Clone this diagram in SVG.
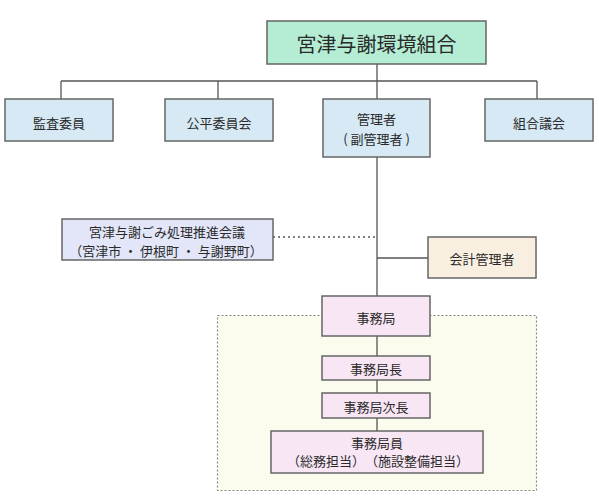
<svg xmlns="http://www.w3.org/2000/svg" width="599" height="497" viewBox="0 0 599 497">
<style>
.b{stroke:#666;stroke-width:1.5}
.g{fill:#b4ecd4}
.bl{fill:#d6e9f5}
.lv{fill:#e2e6f8}
.bg{fill:#f9efe1}
.pk{fill:#f8e6f5}
.t{font-family:"Noto Sans CJK JP","Noto Sans CJK SC",sans-serif;font-size:13px;fill:#2a2a2a;text-anchor:middle;dominant-baseline:central}
.ln{stroke:#555;stroke-width:1.3;fill:none}
</style>
<rect width="599" height="497" fill="#fff"/>
<g id="office-area">
<rect x="217.5" y="315.5" width="319" height="175" fill="#fbfbee" stroke="#888" stroke-width="1.2" stroke-dasharray="2,2"/>
</g>
<g id="connectors">
<path class="ln" d="M377 64V81M61 81H537M61 81V99M218 81V99M377 81V99M537 81V99"/>
<path class="ln" d="M377 157V296M377 258H428M377 336V356M377 380V393M377 418V431"/>
<path class="ln" d="M273 237H377" stroke-dasharray="2,3"/>
</g>
<g id="kumiai"><rect class="b g" x="267" y="21" width="219" height="43"/><text class="t" x="376.5" y="43" style="font-size:20px">宮津与謝環境組合</text></g>
<g id="kansa"><rect class="b bl" x="5" y="99" width="108" height="42"/><text class="t" x="59" y="122">監査委員</text></g>
<g id="kohei"><rect class="b bl" x="165" y="99" width="108" height="42"/><text class="t" x="219" y="122">公平委員会</text></g>
<g id="kanrisha"><rect class="b bl" x="323" y="99" width="107" height="58"/><text class="t" x="376.5" y="118">管理者</text><text class="t" x="376.5" y="138">( 副管理者 )</text></g>
<g id="gikai"><rect class="b bl" x="485" y="99" width="108" height="42"/><text class="t" x="539" y="122">組合議会</text></g>
<g id="suishin"><rect class="b lv" x="62" y="219" width="211" height="41"/><text class="t" x="167" y="231">宮津与謝ごみ処理推進会議</text><text class="t" x="166" y="250">（宮津市 ・ 伊根町 ・ 与謝野町）</text></g>
<g id="kaikei"><rect class="b bg" x="428" y="237" width="108" height="41"/><text class="t" x="482" y="258">会計管理者</text></g>
<g id="jimukyoku"><rect class="b pk" x="322" y="296" width="108" height="40"/><text class="t" x="376" y="317">事務局</text></g>
<g id="kyokucho"><rect class="b pk" x="322" y="356" width="108" height="24"/><text class="t" x="376" y="368">事務局長</text></g>
<g id="jicho"><rect class="b pk" x="322" y="393" width="108" height="25"/><text class="t" x="376" y="406">事務局次長</text></g>
<g id="kyokuin"><rect class="b pk" x="271" y="431" width="212" height="42"/><text class="t" x="377" y="442">事務局員</text><text class="t" x="378" y="460">（総務担当）　（施設整備担当）</text></g>
</svg>
